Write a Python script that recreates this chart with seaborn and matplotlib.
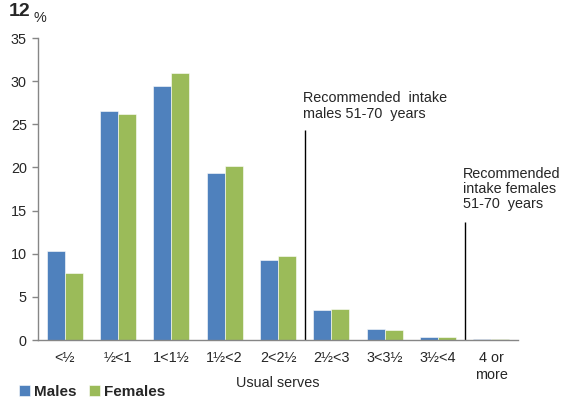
import pandas as pd
import numpy as np
import matplotlib
matplotlib.use("Agg")
import matplotlib.pyplot as plt
import seaborn as sns

# ── DATA ────────────────────────────────────────────────────
categories = ["<½", "½<1", "1<1½", "1½<2", "2<2½", "2½<3", "3<3½", "3½<4", "4 or\nmore"]
males = [10.3, 26.5, 29.4, 19.3, 9.3, 3.5, 1.3, 0.4, 0.15]
females = [7.8, 26.2, 31.0, 20.2, 9.7, 3.6, 1.2, 0.4, 0.1]
y_ticks = [0, 5, 10, 15, 20, 25, 30, 35]

df = pd.DataFrame({
    "Serves": categories * 2,
    "Percent": males + females,
    "Sex": ["Males"] * len(males) + ["Females"] * len(females),
})

# ── STYLE ───────────────────────────────────────────────────
sns.set_theme(style="white")
plt.rcParams["font.family"] = ["Liberation Sans", "DejaVu Sans"]
FS = 10.4

AXIS_GREY = "#868686"
palette = {"Males": "#4F81BD", "Females": "#9BBB59"}

fig = plt.figure(figsize=(5.61, 4.0), dpi=100)
ax = fig.add_axes([0.0677, 0.15, 0.8557, 0.755])

sns.barplot(data=df, x="Serves", y="Percent", hue="Sex", palette=palette,
            width=0.68, gap=0, saturation=1, ax=ax, legend=True,
            edgecolor="white", linewidth=0.4)

ax.set_xlim(-0.5, len(categories) - 0.5)
ax.set_ylim(0, 35)
ax.set_yticks(y_ticks)
ax.set_yticklabels([str(t) for t in y_ticks], fontsize=FS)

# category labels in centres, tick marks at boundaries
ax.set_xticks(range(len(categories)))
ax.set_xticklabels(categories, fontsize=FS, linespacing=1.3)
ax.set_xticks(np.arange(-0.5, len(categories)), minor=True)
ax.tick_params(axis="x", which="major", length=0, pad=8)
ax.tick_params(axis="x", which="minor", length=4, width=1, color=AXIS_GREY, direction="out")
ax.tick_params(axis="y", length=4, width=1, color=AXIS_GREY, direction="out", pad=4, left=True)

for side in ["top", "right"]:
    ax.spines[side].set_visible(False)
for side in ["left", "bottom"]:
    ax.spines[side].set_color(AXIS_GREY)
    ax.spines[side].set_linewidth(1)

ax.set_ylabel("")
ax.set_xlabel("Usual serves", fontsize=FS)
ax.xaxis.set_label_coords(0.5, -0.118)

# recommended intake markers
ax.vlines(4.5, 0, 24.3, color="black", linewidth=1)
ax.vlines(7.5, 0, 13.7, color="black", linewidth=1)
ax.text(4.46, 28.8, "Recommended  intake\nmales 51-70  years", ha="left", va="top",
        fontsize=FS, linespacing=1.1)
ax.text(7.46, 20.1, "Recommended\nintake females\n51-70  years", ha="left", va="top",
        fontsize=FS, linespacing=1.1)

# figure texts
fig.text(0.015, 0.993, "12", fontsize=14, fontweight="bold", ha="left", va="top")
fig.text(0.059, 0.955, "%", fontsize=FS, ha="left", va="center")

handles, labels = ax.get_legend_handles_labels()
leg = ax.legend(handles, labels, loc="upper left", bbox_to_anchor=(0.034, 0.038),
                bbox_transform=fig.transFigure, frameon=False, ncol=2,
                handlelength=0.7, handleheight=0.7, handletextpad=0.3,
                columnspacing=0.8, borderpad=0, borderaxespad=0,
                prop={"size": 11, "weight": "bold"})

fig.savefig("out.png", dpi=100)
